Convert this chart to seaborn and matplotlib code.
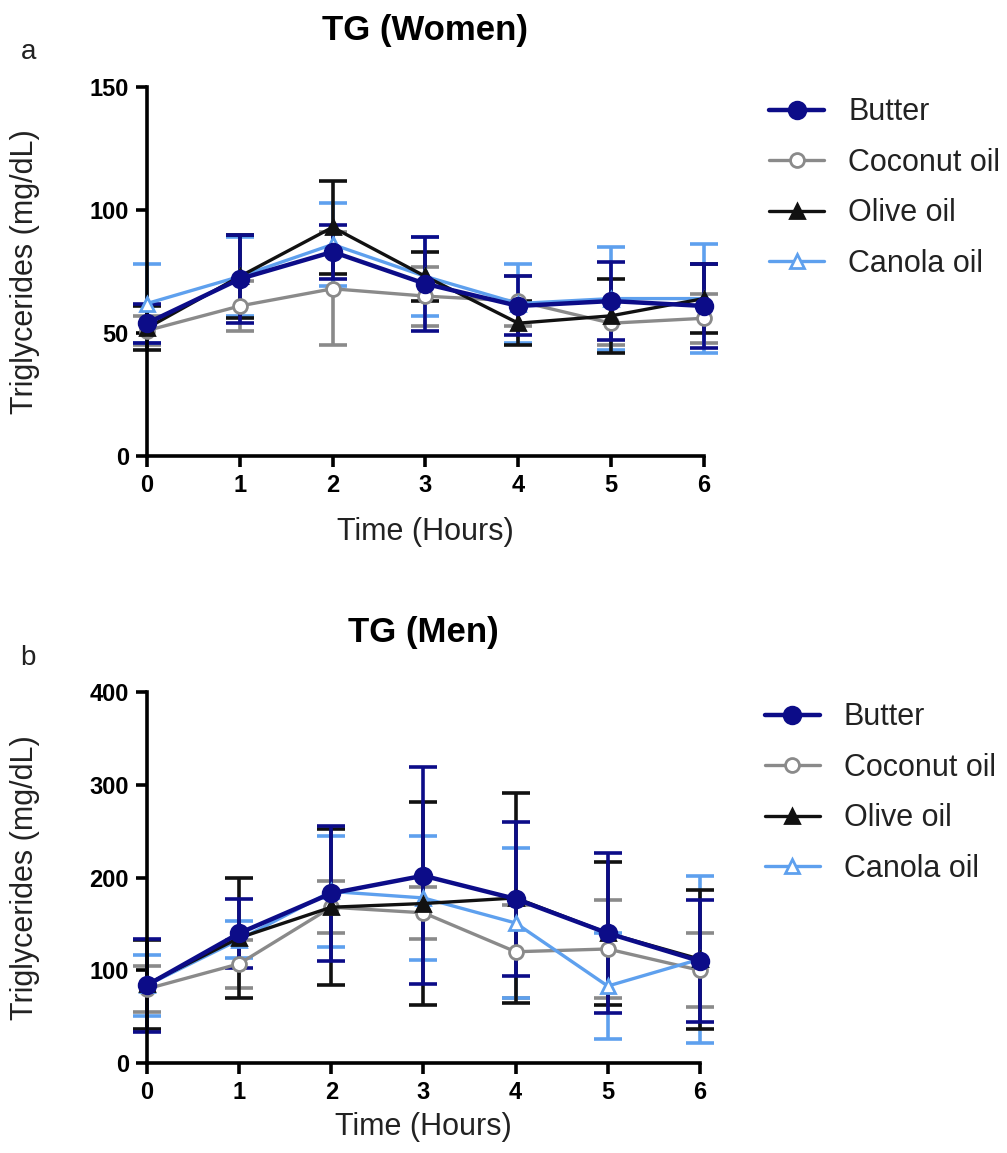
import matplotlib
matplotlib.use("Agg")
import matplotlib.pyplot as plt
import seaborn as sns
import pandas as pd
import numpy as np

sns.set_theme(style="ticks")
plt.rcParams['font.family'] = ['Liberation Sans', 'DejaVu Sans']

hours = [0, 1, 2, 3, 4, 5, 6]
groups = ["Butter", "Coconut oil", "Olive oil", "Canola oil"]

# Women (TG mg/dL)
w_butter = [54, 72, 83, 70, 61, 63, 61]
w_coconut = [51, 61, 68, 65, 63, 54, 56]
w_olive = [52, 73, 93, 73, 54, 57, 64]
w_canola = [62, 73, 86, 73, 62, 64, 64]
w_butter_err = [8, 18, 11, 19, 12, 16, 17]
w_coconut_err = [6, 10, 23, 12, 10, 9, 10]
w_olive_err = [9, 17, 19, 10, 9, 15, 14]
w_canola_err = [16, 16, 17, 16, 16, 21, 22]

# Men (TG mg/dL)
m_butter = [84, 140, 183, 202, 177, 140, 110]
m_coconut = [80, 107, 168, 162, 120, 123, 100]
m_olive = [85, 135, 168, 172, 178, 140, 112]
m_canola = [84, 133, 185, 178, 151, 83, 112]
m_butter_err = [50, 37, 73, 117, 83, 86, 66]
m_coconut_err = [25, 26, 28, 28, 50, 53, 40]
m_olive_err = [48, 65, 84, 109, 113, 77, 75]
m_canola_err = [33, 20, 60, 67, 81, 57, 90]

colors = {"Butter": "#0c0c88", "Coconut oil": "#8a8a8a",
          "Olive oil": "#111111", "Canola oil": "#5ea0ee"}
markers = {"Butter": "o", "Coconut oil": "o", "Olive oil": "^", "Canola oil": "^"}
faces = {"Butter": "#0c0c88", "Coconut oil": "white", "Olive oil": "#111111", "Canola oil": "white"}
draw_order = ["Coconut oil", "Canola oil", "Olive oil", "Butter"]

fig = plt.figure(figsize=(10.07, 11.53), dpi=100)
ax1 = fig.add_axes([0.146, 0.6045, 0.553, 0.32])
ax2 = fig.add_axes([0.146, 0.078, 0.549, 0.3218])

def panel(ax, vals, errs, ylim, yticks, title, letter, letpos, titley, ylab_x, xlab_y, legx):
    rows = []
    for g in groups:
        for h, v in zip(hours, vals[g]):
            rows.append({"Time": h, "TG": v, "Group": g})
    df = pd.DataFrame(rows)
    for g in draw_order:
        sub = df[df.Group == g]
        ax.errorbar(sub.Time, sub.TG, yerr=errs[g], fmt="none", ecolor=colors[g],
                    elinewidth=2.6, capsize=10, capthick=2.6, zorder=2, clip_on=False)
        sns.lineplot(data=sub, x="Time", y="TG", ax=ax, color=colors[g],
                     marker=markers[g], markersize=12 if g == "Butter" else 10,
                     markerfacecolor=faces[g], markeredgecolor=colors[g],
                     markeredgewidth=2, linewidth=3.2 if g == "Butter" else 2.4,
                     label=g, zorder=3 if g != "Butter" else 4, clip_on=False,
                     errorbar=None)
    ax.set_xlim(0, 6)
    ax.set_ylim(*ylim)
    ax.set_xticks(hours)
    ax.set_yticks(yticks)
    for s in ["top", "right"]:
        ax.spines[s].set_visible(False)
    for s in ["left", "bottom"]:
        ax.spines[s].set_linewidth(2.6)
        ax.spines[s].set_color("black")
    ax.tick_params(axis="both", direction="out", length=8, width=2.6, colors="black",
                   labelsize=17, pad=5)
    for lab in ax.get_xticklabels() + ax.get_yticklabels():
        lab.set_fontweight("bold")
    ax.set_xlabel("Time (Hours)", fontsize=22, color="#222222", va="top")
    ax.xaxis.set_label_coords(0.5, xlab_y)
    ax.set_ylabel("Triglycerides (mg/dL)", fontsize=22, color="#222222")
    ax.yaxis.set_label_coords(ylab_x, 0.5)
    ax.text(0.5, titley, title, transform=ax.transAxes, ha="center", va="center",
            fontsize=25, fontweight="bold", color="black")
    fig.text(letpos[0], letpos[1], letter, fontsize=20, color="#222222",
             ha="center", va="center")
    handles, labels = ax.get_legend_handles_labels()
    order = [labels.index(g) for g in groups]
    ax.legend([handles[i] for i in order], [labels[i] for i in order],
              loc="upper left", bbox_to_anchor=(legx, 0.972), frameon=False,
              borderaxespad=0, borderpad=0,
              fontsize=22, labelspacing=0.67, handlelength=1.8, handletextpad=0.8,
              labelcolor="#222222")

panel(ax1,
      {"Butter": w_butter, "Coconut oil": w_coconut, "Olive oil": w_olive, "Canola oil": w_canola},
      {"Butter": w_butter_err, "Coconut oil": w_coconut_err, "Olive oil": w_olive_err, "Canola oil": w_canola_err},
      (0, 150), [0, 50, 100, 150], "TG (Women)", "a", (0.028, 0.955), 1.1545, -0.192, -0.165, 1.117)
panel(ax2,
      {"Butter": m_butter, "Coconut oil": m_coconut, "Olive oil": m_olive, "Canola oil": m_canola},
      {"Butter": m_butter_err, "Coconut oil": m_coconut_err, "Olive oil": m_olive_err, "Canola oil": m_canola_err},
      (0, 400), [0, 100, 200, 300, 400], "TG (Men)", "b", (0.028, 0.429), 1.1617, -0.1935, -0.132, 1.117)

fig.savefig("out.png", dpi=100)
